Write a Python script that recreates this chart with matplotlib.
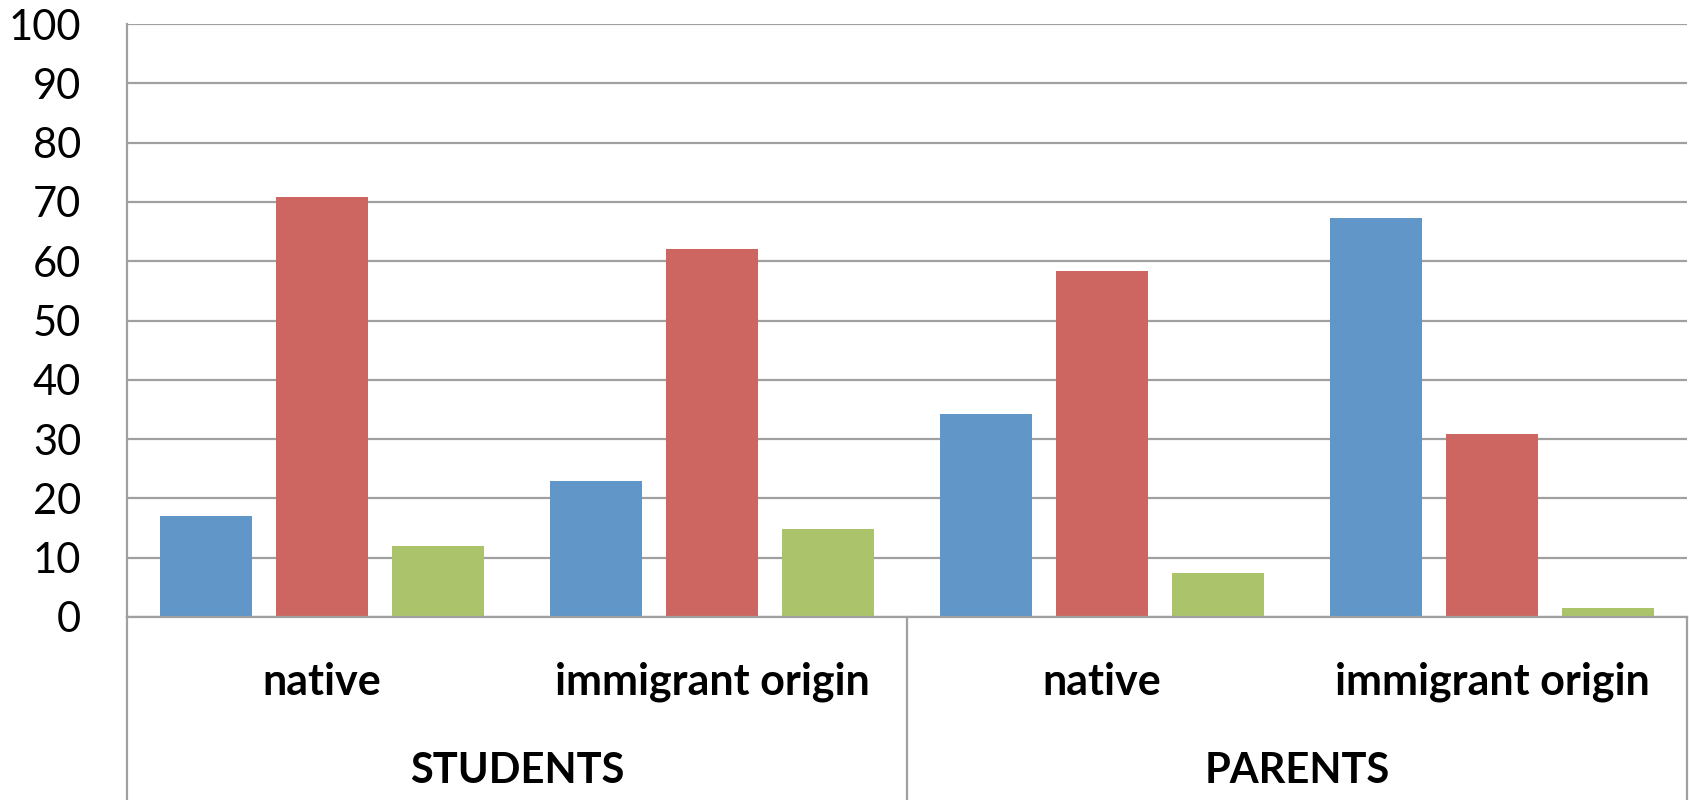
import numpy as np
import matplotlib.pyplot as plt

plt.rcParams["font.family"] = ["Lato", "DejaVu Sans"]

GRID_COLOR = "#a0a0a0"
BAR_COLORS = ["#6196c9", "#cd6660", "#abc46b"]

# two groups, two subgroups each
groups = ["STUDENTS", "PARENTS"]
subgroups = ["native", "immigrant origin", "native", "immigrant origin"]

# three series per subgroup
series_a = [17.0, 23.0, 34.2, 67.3]
series_b = [70.9, 62.1, 58.3, 30.8]
series_c = [12.0, 14.8, 7.5, 1.6]

W, H = 1690, 800
fig = plt.figure(figsize=(W / 100, H / 100), dpi=100)
left, right, top, bottom = 127, 1687, 24, 617
ax = fig.add_axes([left / W, (H - bottom) / H, (right - left) / W, (bottom - top) / H])

x = np.arange(len(subgroups))
width = 0.235
step = 0.2975
for k, vals in enumerate([series_a, series_b, series_c]):
    ax.bar(x + (k - 1) * step, vals, width=width, color=BAR_COLORS[k], zorder=3)

ax.set_xlim(-0.5, len(subgroups) - 0.5)
ax.set_ylim(0, 100)
ax.set_yticks(np.arange(0, 101, 10))
ax.set_xticks([])
ax.tick_params(axis="y", length=0, pad=33, labelsize=30)
ax.yaxis.grid(True, color=GRID_COLOR, linewidth=1.6, zorder=0)

for name in ["top", "right"]:
    ax.spines[name].set_visible(False)
for name in ["left", "bottom"]:
    ax.spines[name].set_color(GRID_COLOR)
    ax.spines[name].set_linewidth(1.6)
    ax.spines[name].set_zorder(4)

# category table under the axis
ax_h = bottom - top
depth = (H - bottom) / ax_h + 0.01
trans = ax.get_xaxis_transform()
for xv in [-0.5, 1.5, 3.5]:
    ax.plot([xv, xv], [0, -depth], color=GRID_COLOR, linewidth=1.6,
            transform=trans, clip_on=False)

for xv, label in zip(x, subgroups):
    ax.text(xv, -(682 - bottom) / ax_h, label, transform=trans,
            ha="center", va="center", fontsize=31, fontweight="bold")

for g, label in enumerate(groups):
    ax.text(2 * g + 0.5, -(771 - bottom) / ax_h, label, transform=trans,
            ha="center", va="center", fontsize=30, fontweight="bold")

fig.savefig("out.png", dpi=100)
